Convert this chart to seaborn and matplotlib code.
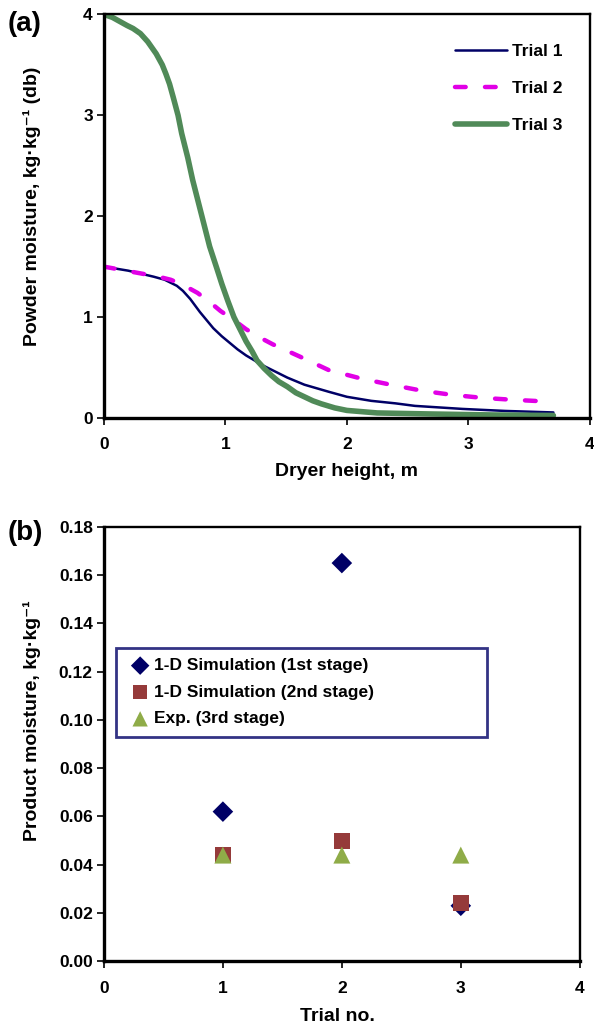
import numpy as np
import pandas as pd
import matplotlib
matplotlib.use("Agg")
import matplotlib.pyplot as plt
import seaborn as sns

# (a) powder moisture along the dryer height
trial1_h = [0.0, 0.2, 0.41, 0.5, 0.55, 0.6, 0.65, 0.71, 0.79, 0.9, 0.97, 1.04, 1.1, 1.17, 1.31, 1.41, 1.51, 1.65, 1.85, 2.0,
            2.2, 2.4, 2.56, 2.95, 3.3, 3.7]
trial1_m = [1.50, 1.46, 1.40, 1.37, 1.34, 1.31, 1.26, 1.18, 1.05, 0.89, 0.81, 0.74, 0.68, 0.62, 0.52, 0.46, 0.40, 0.33, 0.26, 0.21,
            0.17, 0.145, 0.12, 0.09, 0.07, 0.055]

trial2_h = [0.0, 0.27, 0.45, 0.55, 0.65, 0.77, 0.87, 0.96, 1.07, 1.17, 1.28, 1.39, 1.5, 1.61, 1.85, 2.12, 2.36, 2.62, 2.86, 3.11,
            3.37, 3.7]
trial2_m = [1.50, 1.44, 1.40, 1.37, 1.32, 1.24, 1.15, 1.06, 0.97, 0.88, 0.80, 0.73, 0.67, 0.61, 0.475, 0.39, 0.33, 0.27, 0.23, 0.20,
            0.18, 0.16]

trial3_h = [0.0, 0.07, 0.13, 0.19, 0.24, 0.3, 0.36, 0.43, 0.48, 0.51, 0.54, 0.57, 0.61, 0.64, 0.69, 0.73, 0.8, 0.87, 0.93, 0.97,
            1.02, 1.07, 1.12, 1.17, 1.22, 1.26, 1.32, 1.38, 1.44, 1.51, 1.58, 1.65, 1.72, 1.79, 1.9, 2.0, 2.25, 2.68, 3.2, 3.7]
trial3_m = [4.00, 3.97, 3.93, 3.89, 3.86, 3.81, 3.73, 3.61, 3.50, 3.41, 3.31, 3.18, 3.00, 2.82, 2.58, 2.36, 2.03, 1.70, 1.48, 1.33,
            1.16, 1.00, 0.88, 0.76, 0.66, 0.57, 0.49, 0.42, 0.36, 0.31, 0.25, 0.21, 0.17, 0.14, 0.10, 0.075, 0.05, 0.04, 0.03, 0.025]

# (b) product moisture per trial
trials = [1, 2, 3]
sim_1st = [0.062, 0.165, 0.023]
sim_2nd = [0.044, 0.050, 0.024]
exp_3rd = [0.044, 0.044, 0.044]

sns.set_style("ticks")
plt.rcParams['font.family'] = ['Liberation Sans', 'DejaVu Sans']
plt.rcParams['font.weight'] = 'bold'
plt.rcParams['axes.labelweight'] = 'bold'
for key in ('text.color', 'axes.labelcolor', 'xtick.color', 'ytick.color', 'axes.edgecolor'):
    plt.rcParams[key] = 'black'

curves = pd.concat([
    pd.DataFrame({"h": trial1_h, "m": trial1_m, "trial": "Trial 1"}),
    pd.DataFrame({"h": trial2_h, "m": trial2_m, "trial": "Trial 2"}),
    pd.DataFrame({"h": trial3_h, "m": trial3_m, "trial": "Trial 3"}),
], ignore_index=True)

points = pd.concat([
    pd.DataFrame({"trial": trials, "moist": sim_1st, "series": "1-D Simulation (1st stage)"}),
    pd.DataFrame({"trial": trials, "moist": sim_2nd, "series": "1-D Simulation (2nd stage)"}),
    pd.DataFrame({"trial": trials, "moist": exp_3rd, "series": "Exp. (3rd stage)"}),
], ignore_index=True)

fig = plt.figure(figsize=(5.94, 10.27), dpi=100)
ax1 = fig.add_axes([0.175, 0.593, 0.818, 0.393])
ax2 = fig.add_axes([0.175, 0.064, 0.801, 0.423])

line_styles = {
    "Trial 1": dict(color="#000066", lw=1.8, ls="-"),
    "Trial 2": dict(color="#e100e6", lw=3.2, ls=(0, (2.4, 4.35))),
    "Trial 3": dict(color="#508a58", lw=4.0, ls="-"),
}
for name, grp in curves.groupby("trial"):
    st = line_styles[name]
    sns.lineplot(data=grp, x="h", y="m", ax=ax1, sort=False, label=name,
                 color=st["color"], linewidth=st["lw"], linestyle=st["ls"],
                 solid_capstyle="round", dash_capstyle="round",
                 solid_joinstyle="round")

ax1.set_xlim(0, 4)
ax1.set_ylim(0, 4)
ax1.set_xticks([0, 1, 2, 3, 4])
ax1.set_yticks([0, 1, 2, 3, 4])
ax1.set_xlabel("Dryer height, m", fontsize=14)
ax1.set_ylabel("Powder moisture, kg·kg\u207b\u00b9 (db)", fontsize=14)
ax1.xaxis.set_label_coords(0.5, -0.111)
ax1.yaxis.set_label_coords(-0.130, 0.525)
ax1.legend(loc="upper left", bbox_to_anchor=(0.69, 0.965), frameon=False,
           handlelength=3.0, labelspacing=1.25, handletextpad=0.3,
           prop={"weight": "bold", "size": 12.5})

markers = {"1-D Simulation (1st stage)": ("D", "#000066", 110),
           "1-D Simulation (2nd stage)": ("s", "#953a3a", 130),
           "Exp. (3rd stage)": ("^", "#8fac48", 150)}
for name, grp in points.groupby("series", sort=False):
    mk, col, sz = markers[name]
    sns.scatterplot(data=grp, x="trial", y="moist", ax=ax2, marker=mk,
                    color=col, s=sz, edgecolor="none", label=name, zorder=3)

ax2.set_xlim(0, 4)
ax2.set_ylim(0, 0.18)
ax2.set_xticks([0, 1, 2, 3, 4])
ax2.set_yticks(np.arange(0, 0.181, 0.02))
ax2.yaxis.set_major_formatter(matplotlib.ticker.FormatStrFormatter("%.2f"))
ax2.set_xlabel("Trial no.", fontsize=14)
ax2.set_ylabel("Product moisture, kg·kg\u207b\u00b9", fontsize=14)
ax2.xaxis.set_label_coords(0.49, -0.108)
ax2.yaxis.set_label_coords(-0.132, 0.555)
leg = ax2.legend(loc="upper left", bbox_to_anchor=(0.025, 0.512, 0.78, 0.21),
                 mode="expand", frameon=True, fancybox=False, borderaxespad=0,
                 labelspacing=0.66, handletextpad=0.0, borderpad=0.6,
                 handlelength=1.6, markerscale=0.9,
                 prop={"weight": "bold", "size": 12.5})
leg.get_frame().set_edgecolor("#000066")
leg.get_frame().set_linewidth(2.0)

fig.text(0.0135, 0.977, "(a)", fontsize=20, fontweight="bold", ha="left", va="center")
fig.text(0.0135, 0.481, "(b)", fontsize=20, fontweight="bold", ha="left", va="center")

for ax in (ax1, ax2):
    for side in ("left", "bottom"):
        ax.spines[side].set_linewidth(2.4)
    for side in ("top", "right"):
        ax.spines[side].set_linewidth(1.7)
        ax.spines[side].set_visible(True)
    ax.tick_params(axis="both", direction="out", length=5, width=1.2,
                   labelsize=12.5)
    ax.tick_params(axis="x", pad=9)
    ax.tick_params(axis="y", pad=3)
    for lab in ax.get_xticklabels() + ax.get_yticklabels():
        lab.set_fontweight("bold")

fig.savefig("out.png", dpi=100)
